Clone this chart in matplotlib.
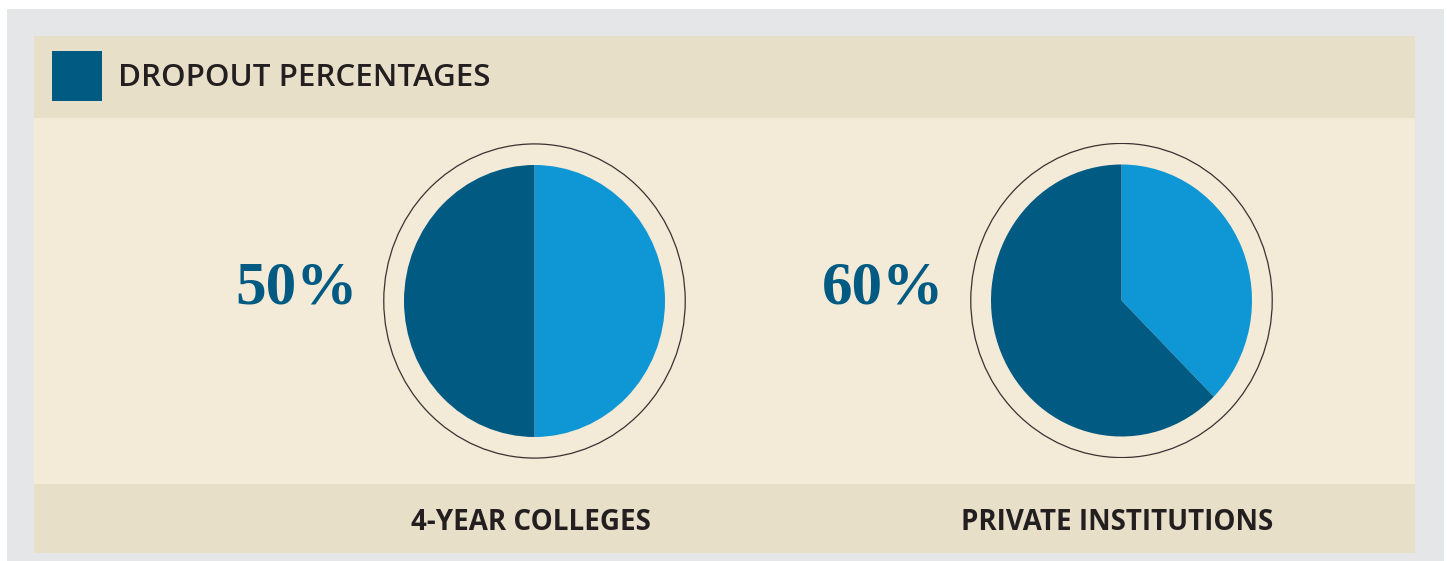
import matplotlib.pyplot as plt
from matplotlib.patches import Rectangle, Ellipse

# data
title = "DROPOUT PERCENTAGES"
groups = ["4-YEAR COLLEGES", "PRIVATE INSTITUTIONS"]
labels = ["50%", "60%"]
# slice shares as drawn (light part, dark part)
light_share = [50, 37.5]
dark_share = [50, 62.5]

W, H = 1447, 561
dark = "#005a82"
light = "#0f96d4"
band = "#e8dfc9"
paper = "#f3ead7"
grey = "#e5e6e8"
ink = "#231f20"

fig = plt.figure(figsize=(W / 100, H / 100), dpi=100)
bg = fig.add_axes([0, 0, 1, 1])
bg.set_xlim(0, W)
bg.set_ylim(H, 0)
bg.axis("off")

bg.add_patch(Rectangle((7, 9), 1437, 552, color=grey, lw=0))
bg.add_patch(Rectangle((34, 36), 1381, 517, color=paper, lw=0))
bg.add_patch(Rectangle((34, 36), 1381, 82, color=band, lw=0))
bg.add_patch(Rectangle((34, 484), 1381, 69, color=band, lw=0))
bg.add_patch(Rectangle((52, 51), 50, 50, color=dark, lw=0))
bg.text(118, 78, title, fontsize=22.5, family="Open Sans", weight="semibold",
        color=ink, va="center", ha="left")

centers = [(534.5, 301), (1121.5, 300.5)]
label_x = [297, 883]
rx, ry = 130.5, 136  # pie radii in px
k = 1.16  # ring radius relative to pie

for i in range(2):
    cx, cy = centers[i]
    aw, ah = 2 * rx * k, 2 * ry * k
    ax = fig.add_axes([(cx - aw / 2) / W, 1 - (cy + ah / 2) / H, aw / W, ah / H])
    ax.pie([light_share[i], dark_share[i]], colors=[light, dark], startangle=90,
           counterclock=False, radius=1, wedgeprops=dict(linewidth=0))
    ax.set_aspect("auto")
    ax.set_xlim(-k, k)
    ax.set_ylim(-k, k)
    ax.add_patch(Ellipse((0, 0), 2 * k - 0.01, 2 * k - 0.01, fill=False,
                         ec="#3a3232", lw=0.9))
    ax.axis("off")

    bg.text(label_x[i], 288, labels[i], fontsize=44, family="Liberation Serif",
            weight="bold", color=dark, ha="center", va="center")
    bg.text(cx - 4, 522, groups[i], fontsize=20, family="Open Sans",
            weight="bold", color=ink, ha="center", va="center")

fig.savefig("out.png", dpi=100, facecolor="white")
